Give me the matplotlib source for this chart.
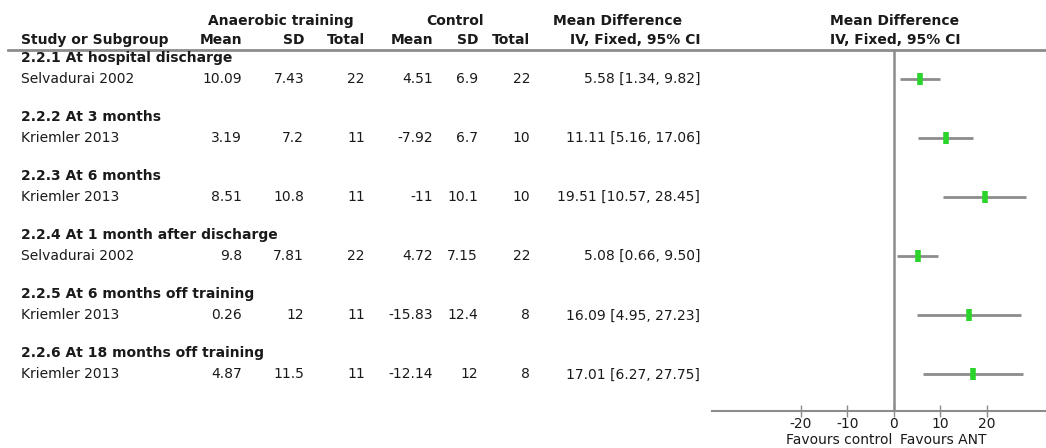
import matplotlib
matplotlib.use("Agg")
import matplotlib.pyplot as plt
from matplotlib.lines import Line2D
from matplotlib.transforms import blended_transform_factory

# subgroup results: anaerobic training (ANT) vs control
groups = ['2.2.1 At hospital discharge', '2.2.2 At 3 months', '2.2.3 At 6 months',
          '2.2.4 At 1 month after discharge', '2.2.5 At 6 months off training',
          '2.2.6 At 18 months off training']
studies = ['Selvadurai 2002', 'Kriemler 2013', 'Kriemler 2013',
           'Selvadurai 2002', 'Kriemler 2013', 'Kriemler 2013']
ant_mean = [10.09, 3.19, 8.51, 9.8, 0.26, 4.87]
ant_sd = [7.43, 7.2, 10.8, 7.81, 12, 11.5]
ant_n = [22, 11, 11, 22, 11, 11]
ctl_mean = [4.51, -7.92, -11, 4.72, -15.83, -12.14]
ctl_sd = [6.9, 6.7, 10.1, 7.15, 12.4, 12]
ctl_n = [22, 10, 10, 22, 8, 8]
md = [5.58, 11.11, 19.51, 5.08, 16.09, 17.01]
ci_lo = [1.34, 5.16, 10.57, 0.66, 4.95, 6.27]
ci_hi = [9.82, 17.06, 28.45, 9.50, 27.23, 27.75]
xticks = [-20, -10, 0, 10, 20]

plt.rcParams['axes.unicode_minus'] = False

W, H = 1046, 448
FS = 10
TXT = '#1a1a1a'
GREY = '#8c8c8c'

fig = plt.figure(figsize=(W / 100, H / 100), dpi=100)
ax = fig.add_axes([712 / W, 1 - 411 / H, (1046 - 712) / W, (411 - 50) / H])

head_y = list(range(len(groups)))
study_y = [g + 0.36 for g in head_y]

# forest plot
ax.axvline(0, color=GREY, lw=1.8, zorder=1)
ax.hlines(study_y, ci_lo, ci_hi, color=GREY, lw=2, zorder=2)
ax.plot(md, study_y, ls='none', marker='|', ms=9, mew=4, color='#2ad42a', zorder=3)

ax.set_xlim(-39.1, 32.7)
ax.set_ylim(5.98, -0.136)
ax.set_xticks(xticks)
ax.set_yticks([])
for s in ['left', 'top', 'right']:
    ax.spines[s].set_visible(False)
ax.spines['bottom'].set_color(GREY)
ax.spines['bottom'].set_linewidth(1.5)
ax.tick_params(axis='x', direction='inout', length=9, width=1, color=GREY,
               labelsize=FS, labelcolor=TXT, pad=0)
ax.annotate('Favours control', xy=(0, 0), xycoords=('data', 'axes fraction'),
            xytext=(-2, -29), textcoords='offset pixels', ha='right', va='center',
            fontsize=FS, color=TXT)
ax.annotate('Favours ANT', xy=(0, 0), xycoords=('data', 'axes fraction'),
            xytext=(6, -29), textcoords='offset pixels', ha='left', va='center',
            fontsize=FS, color=TXT)

# table on the left, x in pixels, y shared with the forest rows
tr = blended_transform_factory(fig.transFigure, ax.transData)


def cell(px, y, s, ha='right', bold=False):
    fig.text(px / W, y, s, transform=tr, ha=ha, va='center', fontsize=FS,
             color=TXT, fontweight='bold' if bold else 'normal')


def fmt(v):
    return '{:g}'.format(v)


cols = [242, 304, 365, 433, 478, 530, 700]

for i in range(len(groups)):
    cell(21, head_y[i], groups[i], ha='left', bold=True)
    y = study_y[i]
    cell(21, y, studies[i], ha='left')
    cell(cols[0], y, fmt(ant_mean[i]))
    cell(cols[1], y, fmt(ant_sd[i]))
    cell(cols[2], y, fmt(ant_n[i]))
    cell(cols[3], y, fmt(ctl_mean[i]))
    cell(cols[4], y, fmt(ctl_sd[i]))
    cell(cols[5], y, fmt(ctl_n[i]))
    cell(cols[6], y, '{:.2f} [{:.2f}, {:.2f}]'.format(md[i], ci_lo[i], ci_hi[i]))


# column headers
def head(px, py, s, ha='center'):
    fig.text(px / W, 1 - py / H, s, ha=ha, va='center', fontsize=FS,
             color=TXT, fontweight='bold')


head(281, 21, 'Anaerobic training')
head(455, 21, 'Control')
head(618, 21, 'Mean Difference')
head(895, 21, 'Mean Difference')
head(21, 40, 'Study or Subgroup', ha='left')
for c, s in zip(cols[:6], ['Mean', 'SD', 'Total', 'Mean', 'SD', 'Total']):
    head(c, 40, s, ha='right')
head(cols[6], 40, 'IV, Fixed, 95% CI', ha='right')
head(895, 40, 'IV, Fixed, 95% CI')

fig.add_artist(Line2D([8 / W, 1], [1 - 50 / H] * 2, transform=fig.transFigure,
                      color=GREY, lw=2))

fig.savefig('out.png', dpi=100)
